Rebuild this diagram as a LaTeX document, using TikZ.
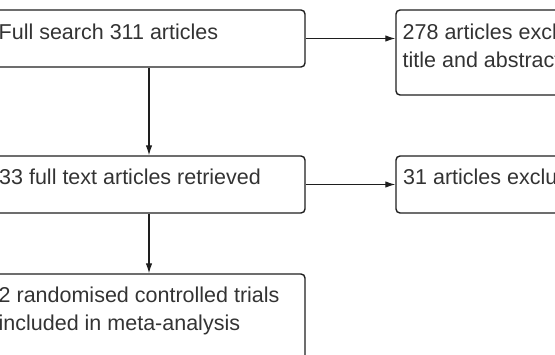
\documentclass[tikz,border=0pt]{standalone}
\usepackage{fontspec}
\setmainfont{Liberation Sans}
\usetikzlibrary{arrows.meta}
\definecolor{linec}{HTML}{1E1E1E}
\definecolor{textc}{HTML}{333333}
\tikzset{
  box/.style={draw=linec, line width=1.4pt, rounded corners=4pt, inner sep=0pt},
  lbl/.style={anchor=base west, inner sep=0pt, text=textc, font=\fontsize{21.5pt}{28pt}\selectfont, align=left},
  conn/.style={draw=linec, line width=1.1pt, -{Latex[length=10pt,width=6.5pt]}}
}
\begin{document}
\begin{tikzpicture}[x=1pt,y=-1pt]
\useasboundingbox (0,0) rectangle (555,355);
\node[box, minimum width=312pt, minimum height=57pt] (b1) at (149,38.5) {};
\node[box, minimum width=320pt, minimum height=85pt] (b2) at (556,52.5) {};
\node[box, minimum width=312pt, minimum height=57pt] (b3) at (149,184.5) {};
\node[box, minimum width=320pt, minimum height=57pt] (b4) at (556,184.5) {};
\node[box, minimum width=312pt, minimum height=140pt] (b5) at (149,344) {};
\node[lbl] (t1) at (-1.5,40) {Full search 311 articles};
\node[lbl] (t2) at (402.5,68) {278 articles excl\\title and abstract};
\node[lbl] (t3) at (-1,185) {33 full text articles retrieved};
\node[lbl] (t4) at (403,185) {31 articles exclu};
\node[lbl] (t5) at (-1.5,331) {2 randomised controlled trials\\included in meta-analysis};
\draw[conn] (b1.east) -- (b1.east -| b2.west);
\draw[conn] (b3.east) -- (b4.west);
\draw[conn] (b1.south) -- (b3.north);
\draw[conn] (b3.south) -- (b5.north);
\end{tikzpicture}
\end{document}
